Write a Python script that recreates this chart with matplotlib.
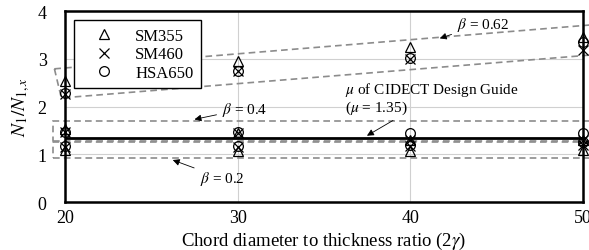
import numpy as np
import matplotlib
matplotlib.use('Agg')
import matplotlib.pyplot as plt
from matplotlib.patches import Polygon, Rectangle

plt.rcParams['font.family'] = ['Liberation Serif', 'DejaVu Serif']
plt.rcParams['mathtext.fontset'] = 'stix'
plt.rcParams['font.size'] = 11

# chord diameter to thickness ratio
x = [20, 30, 40, 50]

# beta = 0.2
sm355_b02 = [1.08, 1.07, 1.07, 1.10]
sm460_b02 = [1.15, 1.15, 1.18, 1.20]
hsa650_b02 = [1.17, 1.17, 1.20, 1.25]
# beta = 0.4
sm355_b04 = [1.52, 1.45, 1.30, 1.30]
sm460_b04 = [1.47, 1.45, 1.30, 1.30]
hsa650_b04 = [1.47, 1.47, 1.44, 1.45]
# beta = 0.62
sm355_b062 = [2.53, 2.95, 3.24, 3.45]
sm460_b062 = [2.26, 2.74, 3.00, 3.18]
hsa650_b062 = [2.28, 2.74, 3.02, 3.36]

mu_cidect = 1.35

fig = plt.figure(figsize=(5.89, 2.51), dpi=100)
ax = fig.add_axes([0.110, 0.191, 0.880, 0.761])

ax.set_xlim(20, 50)
ax.set_ylim(0, 4)
ax.set_xticks([20, 30, 40, 50])
ax.set_yticks([0, 1, 2, 3, 4])
ax.grid(True, color='#d0d0d0', linewidth=0.8)
ax.set_axisbelow(True)
ax.tick_params(axis='both', length=0, labelsize=13)
ax.tick_params(axis='x', pad=5)
ax.tick_params(axis='y', pad=13)
for s in ax.spines.values():
    s.set_linewidth(1.8)

# bands
dash = dict(fill=False, edgecolor='#8c8c8c', linewidth=1.2, linestyle=(0, (4, 2.5)), clip_on=False)
ax.add_patch(Rectangle((19.3, 0.92), 31.5, 0.33, **dash))
ax.add_patch(Rectangle((19.3, 1.28), 31.5, 0.42, **dash))
ax.add_patch(Polygon([(19.4, 2.79), (19.8, 2.18), (50.8, 3.09), (50.8, 3.72)], closed=True, **dash))

ax.plot([20, 50], [mu_cidect, mu_cidect], color='black', linewidth=2, zorder=3)

mk = dict(linestyle='none', markersize=7, markerfacecolor='none', markeredgecolor='black',
          markeredgewidth=0.9, color='black', clip_on=False, zorder=4)
for ys in (sm355_b02, sm355_b04, sm355_b062):
    ax.plot(x, ys, marker='^', **mk)
for ys in (sm460_b02, sm460_b04, sm460_b062):
    ax.plot(x, ys, marker='x', **mk)
for ys in (hsa650_b02, hsa650_b04, hsa650_b062):
    ax.plot(x, ys, marker='o', **mk)

h1, = ax.plot([], [], marker='^', **mk)
h2, = ax.plot([], [], marker='x', **mk)
h3, = ax.plot([], [], marker='o', **mk)
leg = ax.legend([h1, h2, h3], ['SM355', 'SM460', 'HSA650'], loc='upper left',
                bbox_to_anchor=(0.012, 0.968), fancybox=False, framealpha=1,
                edgecolor='black', fontsize=12, handletextpad=0.6, borderpad=0.45,
                labelspacing=0.15, handlelength=2.6, borderaxespad=0.2)
leg.get_frame().set_linewidth(1.0)

arr = dict(arrowstyle='-|>', color='black', linewidth=0.6, mutation_scale=10)
ax.annotate(r'$\beta$ = 0.62', xy=(41.55, 3.41), xytext=(42.7, 3.73), va='center',
            arrowprops=arr)
ax.annotate(r'$\beta$ = 0.4', xy=(27.35, 1.72), xytext=(29.1, 1.95), va='center',
            arrowprops=arr)
ax.annotate(r'$\beta$ = 0.2', xy=(26.1, 0.90), xytext=(27.8, 0.50), va='center',
            arrowprops=arr)
ax.annotate(r'$\mu$ of CIDECT Design Guide' + '\n' + r'($\mu$ = 1.35)', xy=(37.35, 1.36),
            xytext=(36.2, 2.18), va='center', linespacing=1.1, arrowprops=arr)

ax.set_xlabel(r'Chord diameter to thickness ratio (2$\gamma$)', fontsize=13.5, labelpad=3)
ax.set_ylabel(r'$N_1/N_{1,x}$', fontsize=14, labelpad=4)

fig.savefig('out.png', dpi=100)
